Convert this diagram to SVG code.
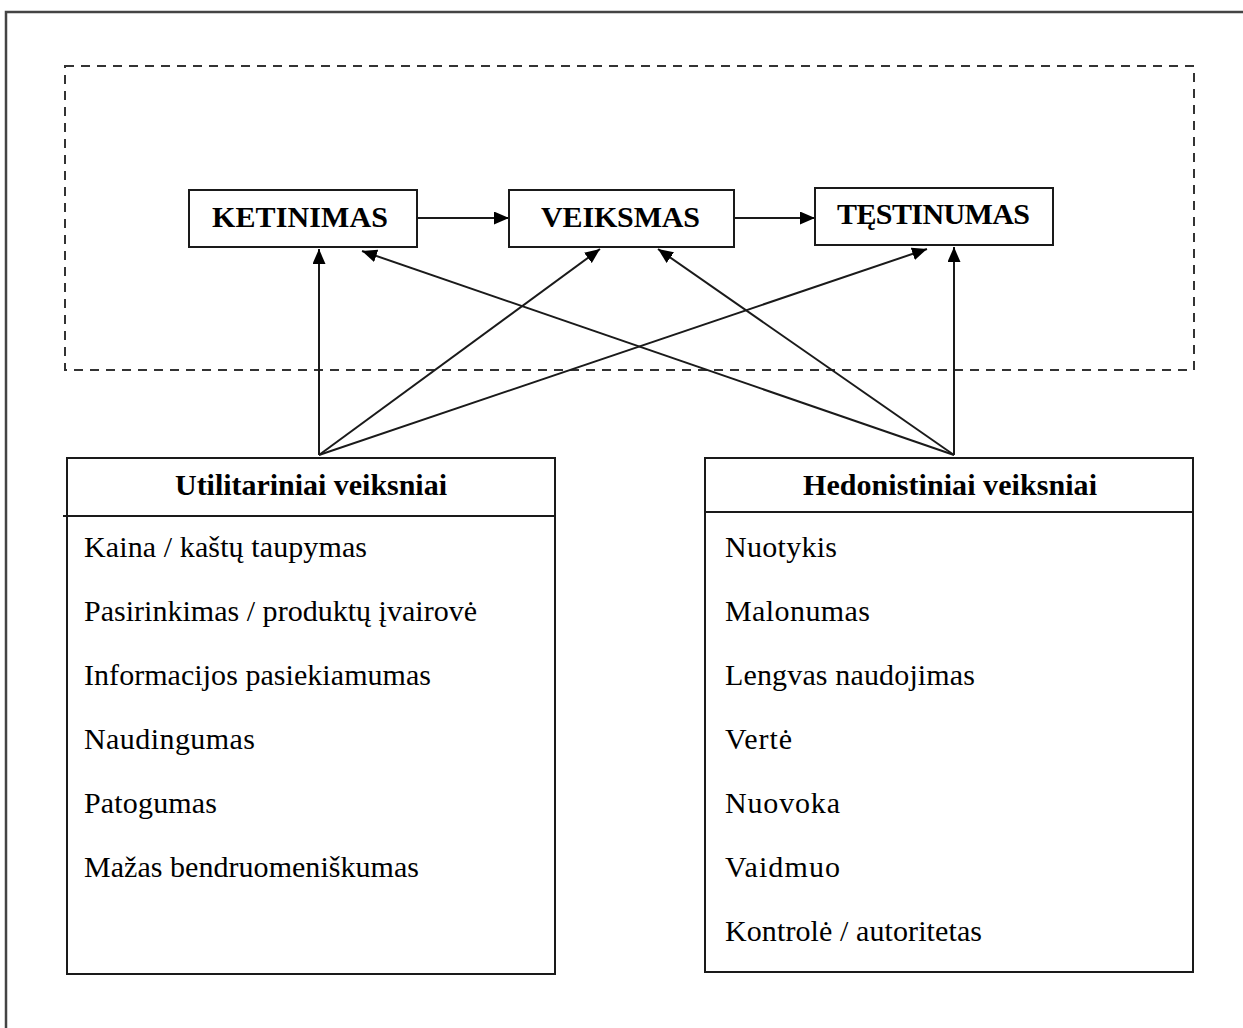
<svg xmlns="http://www.w3.org/2000/svg" width="1243" height="1028" viewBox="0 0 1243 1028">
<style>
.box{fill:#fff;stroke:#1a1a1a;stroke-width:2}
.hd{font-family:"Liberation Serif","Times New Roman",serif;font-weight:bold;font-size:30px;fill:#000}
.it{font-family:"Liberation Serif","Times New Roman",serif;font-size:30px;fill:#000}
.ln{stroke:#1a1a1a;stroke-width:2;fill:none;marker-end:url(#ah)}
</style>
<defs>
<marker id="ah" markerUnits="userSpaceOnUse" markerWidth="15" markerHeight="13" refX="15" refY="6.5" orient="auto">
<path d="M0,0 L15,6.5 L0,13 Z" fill="#000"/>
</marker>
</defs>
<rect width="1243" height="1028" fill="#fff"/>
<g id="frame">
<rect x="6" y="12" width="1300" height="1100" fill="none" stroke="#444" stroke-width="2.5"/>
</g>
<g id="group-boundary">
<rect x="65" y="66" width="1129" height="304" fill="none" stroke="#333" stroke-width="2" stroke-dasharray="9,7"/>
</g>
<g id="connectors">
<line class="ln" x1="417" y1="218" x2="509" y2="218"/>
<line class="ln" x1="734" y1="218" x2="815" y2="218"/>
<line class="ln" x1="319" y1="455" x2="319" y2="249"/>
<line class="ln" x1="319" y1="455" x2="600" y2="249"/>
<line class="ln" x1="319" y1="455" x2="927" y2="249"/>
<line class="ln" x1="954" y1="455" x2="362" y2="251"/>
<line class="ln" x1="954" y1="455" x2="658" y2="249"/>
<line class="ln" x1="954" y1="455" x2="954" y2="247"/>
</g>
<g id="node-ketinimas">
<rect class="box" x="189" y="190" width="228" height="57"/>
<text class="hd" x="212" y="227" textLength="176">KETINIMAS</text>
</g>
<g id="node-veiksmas">
<rect class="box" x="509" y="190" width="225" height="57"/>
<text class="hd" x="541" y="227" textLength="159">VEIKSMAS</text>
</g>
<g id="node-testinumas">
<rect class="box" x="815" y="188" width="238" height="57"/>
<text class="hd" x="837" y="224" textLength="193">TĘSTINUMAS</text>
</g>
<g id="node-utilitariniai">
<rect class="box" x="67" y="458" width="488" height="516"/>
<line x1="63" y1="516" x2="555" y2="516" stroke="#1a1a1a" stroke-width="2"/>
<text class="hd" x="175" y="495" textLength="272">Utilitariniai veiksniai</text>
<text class="it" x="84" y="557" textLength="283">Kaina / kaštų taupymas</text>
<text class="it" x="84" y="621" textLength="393">Pasirinkimas / produktų įvairovė</text>
<text class="it" x="84" y="685" textLength="347">Informacijos pasiekiamumas</text>
<text class="it" x="84" y="749" textLength="171">Naudingumas</text>
<text class="it" x="84" y="813" textLength="133">Patogumas</text>
<text class="it" x="84" y="877" textLength="335">Mažas bendruomeniškumas</text>
</g>
<g id="node-hedonistiniai">
<rect class="box" x="705" y="458" width="488" height="514"/>
<line x1="705" y1="512" x2="1193" y2="512" stroke="#1a1a1a" stroke-width="2"/>
<text class="hd" x="803" y="495" textLength="294">Hedonistiniai veiksniai</text>
<text class="it" x="725" y="557" textLength="112">Nuotykis</text>
<text class="it" x="725" y="621" textLength="145">Malonumas</text>
<text class="it" x="725" y="685" textLength="250">Lengvas naudojimas</text>
<text class="it" x="725" y="749" textLength="67">Vertė</text>
<text class="it" x="725" y="813" textLength="115">Nuovoka</text>
<text class="it" x="725" y="877" textLength="115">Vaidmuo</text>
<text class="it" x="725" y="941" textLength="257">Kontrolė / autoritetas</text>
</g>
</svg>
